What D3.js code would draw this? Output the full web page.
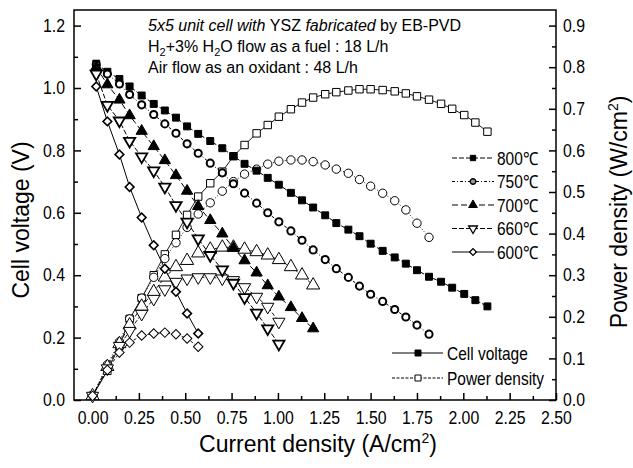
<!DOCTYPE html>
<html>
<head>
<meta charset="utf-8">
<script src="https://cdn.jsdelivr.net/npm/d3@7"></script>
<style>
  body { margin: 0; background: #fff; }
  svg { display: block; }
  text { font-family: "Liberation Sans", Arial, sans-serif; fill: #000; }
</style>
</head>
<body>
<svg id="chart" width="633" height="468"></svg>
<script>
// current density (A/cm2), shared by all temperatures (each uses the first n points)
const current = [0.02,0.08,0.145,0.20,0.265,0.33,0.39,0.45,0.51,0.57,0.635,0.70,0.76,0.82,0.885,0.945,1.005,1.07,1.13,1.19,1.255,1.315,1.38,1.44,1.50,1.565,1.63,1.69,1.75,1.815,1.88,1.94,2.005,2.065,2.13];
const currentP = [0.00,0.08,0.145,0.20,0.265,0.33,0.39,0.45,0.51,0.57,0.635,0.70,0.76,0.82,0.885,0.945,1.005,1.07,1.13,1.19,1.255,1.315,1.38,1.44,1.50,1.565,1.63,1.69,1.75,1.815,1.88,1.94,2.005,2.065,2.13];

// cell voltage (V)
const v800 = [1.078,1.052,1.029,1.005,0.976,0.949,0.928,0.905,0.877,0.853,0.830,0.807,0.782,0.757,0.735,0.712,0.690,0.664,0.640,0.617,0.592,0.567,0.546,0.525,0.501,0.478,0.457,0.437,0.416,0.395,0.379,0.360,0.340,0.320,0.300];
const v750 = [1.075,1.045,1.013,0.979,0.946,0.915,0.885,0.855,0.821,0.791,0.759,0.728,0.693,0.663,0.631,0.600,0.571,0.542,0.512,0.481,0.450,0.421,0.393,0.365,0.339,0.316,0.290,0.266,0.240,0.211];
const v700 = [1.067,1.011,0.962,0.912,0.862,0.813,0.768,0.720,0.670,0.621,0.576,0.533,0.487,0.447,0.408,0.367,0.331,0.297,0.262,0.229];
const v660 = [1.045,0.945,0.895,0.830,0.780,0.735,0.683,0.624,0.571,0.517,0.464,0.418,0.375,0.329,0.279,0.229,0.180];
const v600 = [1.005,0.893,0.787,0.683,0.585,0.496,0.421,0.347,0.277,0.213];

// power density (W/cm2)
const p800 = [0.01,0.07,0.13,0.195,0.245,0.30,0.35,0.397,0.445,0.489,0.521,0.549,0.586,0.613,0.641,0.661,0.681,0.699,0.715,0.727,0.735,0.740,0.744,0.747,0.747,0.745,0.742,0.737,0.730,0.722,0.712,0.700,0.685,0.667,0.645];
const p750 = [0.01,0.085,0.14,0.195,0.245,0.295,0.34,0.378,0.415,0.447,0.474,0.502,0.525,0.543,0.555,0.567,0.574,0.577,0.577,0.573,0.565,0.555,0.545,0.530,0.514,0.497,0.479,0.457,0.425,0.391];
const p700 = [0.01,0.08,0.135,0.18,0.225,0.26,0.295,0.32,0.335,0.353,0.362,0.367,0.367,0.362,0.356,0.348,0.337,0.32,0.30,0.276];
const p660 = [0.01,0.076,0.13,0.166,0.207,0.243,0.266,0.284,0.292,0.295,0.295,0.292,0.288,0.271,0.248,0.224,0.188];
const p600 = [0.01,0.072,0.114,0.138,0.155,0.16,0.162,0.158,0.148,0.128];

const tempLabels = ["800℃", "750℃", "700℃", "660℃", "600℃"];
const xTicks = [0,0.25,0.5,0.75,1,1.25,1.5,1.75,2,2.25,2.5];
const yTicks = [0,0.2,0.4,0.6,0.8,1.0,1.2];
const y2Ticks = [0,0.1,0.2,0.3,0.4,0.5,0.6,0.7,0.8,0.9];

const svg = d3.select("#chart");
const margin = { top: 10, right: 77, bottom: 68, left: 74 };
const width = 633, height = 468;

const x = d3.scaleLinear().domain([-0.1, 2.5]).range([margin.left, width - margin.right]);
const y = d3.scaleLinear().domain([0, 1.25]).range([height - margin.bottom, margin.top]);
const y2 = d3.scaleLinear().domain([0, 0.9375]).range([height - margin.bottom, margin.top]);

// squeeze text horizontally, the original uses a narrow face
function condense(sel, k) {
    sel.each(function() {
        const t = d3.select(this);
        const tx = +t.attr("x") || 0, ty = +t.attr("y") || 0;
        t.attr("x", 0).attr("y", 0).attr("transform", `translate(${tx},${ty}) scale(${k},1)`);
    });
}

// Axes (ticks point inward)
const bottom = height - margin.bottom;
const right = width - margin.right;

svg.append("g")
    .attr("transform", `translate(0, ${bottom})`)
    .call(d3.axisBottom(x).tickValues(xTicks.map(d => d + 0.125).filter(d => d < 2.5)).tickSize(-4).tickFormat(""));
svg.append("g")
    .attr("class", "axis")
    .attr("transform", `translate(0, ${bottom})`)
    .call(d3.axisBottom(x).tickValues(xTicks).tickSize(-7).tickPadding(11).tickFormat(d3.format(".2f")));

svg.append("g")
    .attr("transform", `translate(${margin.left}, 0)`)
    .call(d3.axisLeft(y).tickValues(yTicks.map(d => d + 0.1).filter(d => d < 1.25)).tickSize(-4).tickFormat(""));
svg.append("g")
    .attr("class", "axis")
    .attr("transform", `translate(${margin.left}, 0)`)
    .call(d3.axisLeft(y).tickValues(yTicks).tickSize(-7).tickPadding(9).tickFormat(d3.format(".1f")));

svg.append("g")
    .attr("transform", `translate(${right}, 0)`)
    .call(d3.axisRight(y2).tickValues(y2Ticks.map(d => d + 0.05).filter(d => d < 0.93)).tickSize(-4).tickFormat(""));
svg.append("g")
    .attr("class", "axis")
    .attr("transform", `translate(${right}, 0)`)
    .call(d3.axisRight(y2).tickValues(y2Ticks).tickSize(-7).tickPadding(7).tickFormat(d3.format(".1f")));

svg.selectAll(".domain").remove();
svg.selectAll(".tick line").attr("stroke", "#000").attr("stroke-width", 1.5);
svg.selectAll(".axis text").style("font-size", "18px").attr("fill", "#000");
condense(svg.selectAll(".axis text"), 0.88);

// Frame
svg.append("rect")
    .attr("x", margin.left).attr("y", margin.top)
    .attr("width", right - margin.left).attr("height", bottom - margin.top)
    .attr("fill", "none").attr("stroke", "#000").attr("stroke-width", 1.5);

// Series definitions
const sym = {
    square: d3.symbol().type(d3.symbolSquare),
    circle: d3.symbol().type(d3.symbolCircle),
    tri: d3.symbol().type(d3.symbolTriangle)
};

const voltSeries = [
    { v: v800, shape: "square", size: 48, fill: "#000", sw: 1, dash: "5,2", rot: 0 },
    { v: v750, shape: "circle", size: 40, fill: "#fff", sw: 2, dash: "3,2,1,2", rot: 0 },
    { v: v700, shape: "tri", size: 55, fill: "#000", sw: 1, dash: "6,3", rot: 0 },
    { v: v660, shape: "tri", size: 55, fill: "#fff", sw: 1.8, dash: "5,2", rot: 180 },
    { v: v600, shape: "square", size: 38, fill: "#fff", sw: 1.6, dash: null, rot: 45 }
];
const powerSeries = [
    { p: p800, shape: "square", size: 55, sw: 1, dash: null, rot: 0 },
    { p: p750, shape: "circle", size: 55, sw: 1, dash: "1,2", rot: 0 },
    { p: p700, shape: "tri", size: 75, sw: 1, dash: "4,2", rot: 0 },
    { p: p660, shape: "tri", size: 65, sw: 1, dash: "4,2", rot: 180 },
    { p: p600, shape: "square", size: 45, sw: 1, dash: "3,2", rot: 45 }
];

const lineV = d3.line().x((d, i) => x(current[i])).y(d => y(d));
const lineP = d3.line().x((d, i) => x(currentP[i])).y(d => y2(d));

const plot = svg.append("g");

powerSeries.forEach(s => {
    plot.append("path").datum(s.p)
        .attr("fill", "none").attr("stroke", "#000").attr("stroke-width", 0.9)
        .attr("stroke-dasharray", s.dash).attr("d", lineP);
});
voltSeries.forEach(s => {
    plot.append("path").datum(s.v)
        .attr("fill", "none").attr("stroke", "#000").attr("stroke-width", 1)
        .attr("stroke-dasharray", s.dash).attr("d", lineV);
});

powerSeries.forEach(s => {
    plot.append("g").selectAll("path")
        .data(s.p)
        .enter()
        .append("path")
        .attr("d", sym[s.shape].size(s.size)())
        .attr("transform", (d, i) => `translate(${x(currentP[i])}, ${y2(d)}) rotate(${s.rot})`)
        .attr("fill", "#fff").attr("stroke", "#000").attr("stroke-width", s.sw);
});
voltSeries.forEach(s => {
    plot.append("g").selectAll("path")
        .data(s.v)
        .enter()
        .append("path")
        .attr("d", sym[s.shape].size(s.size)())
        .attr("transform", (d, i) => `translate(${x(current[i])}, ${y(d)}) rotate(${s.rot})`)
        .attr("fill", s.fill).attr("stroke", "#000").attr("stroke-width", s.sw);
});

// Temperature legend
const legT = svg.append("g");
tempLabels.forEach((t, i) => {
    const s = voltSeries[i];
    const ly = 158 + i * 23.5;
    legT.append("line").attr("x1", 452).attr("x2", 494).attr("y1", ly).attr("y2", ly)
        .attr("stroke", "#000").attr("stroke-width", 1).attr("stroke-dasharray", s.dash);
    legT.append("path")
        .attr("d", sym[s.shape].size(s.size * 0.6)())
        .attr("transform", `translate(473, ${ly}) rotate(${s.rot})`)
        .attr("fill", i === 1 ? "#999" : s.fill).attr("stroke", "#000").attr("stroke-width", Math.min(s.sw, 1.3));
    legT.append("text").attr("class", "leg").attr("x", 497).attr("y", ly + 6.5)
        .style("font-size", "18px").text(t);
});

// Cell voltage / power density legend
const legK = [
    { label: "Cell voltage", fill: "#000", dash: null },
    { label: "Power density", fill: "#fff", dash: "3,1.5" }
];
legK.forEach((k, i) => {
    const ly = 353 + i * 25;
    svg.append("line").attr("x1", 392).attr("x2", 443).attr("y1", ly).attr("y2", ly)
        .attr("stroke", "#000").attr("stroke-width", 1).attr("stroke-dasharray", k.dash);
    svg.append("path")
        .attr("d", sym.square.size(36)())
        .attr("transform", `translate(418, ${ly})`)
        .attr("fill", k.fill).attr("stroke", "#000").attr("stroke-width", 1);
    svg.append("text").attr("class", "leg").attr("x", 447).attr("y", ly + 6.5)
        .style("font-size", "18px").text(k.label);
});
condense(svg.selectAll("text.leg"), 0.86);

// Test conditions
const note = svg.append("g").style("font-size", "16px");
const l1 = note.append("text").attr("x", 148).attr("y", 31);
l1.append("tspan").style("font-style", "italic").text("5x5 unit cell with ");
l1.append("tspan").text("YSZ ");
l1.append("tspan").style("font-style", "italic").text("fabricated");
l1.append("tspan").text(" by EB-PVD");

const l2 = note.append("text").attr("x", 148).attr("y", 52);
l2.append("tspan").text("H");
l2.append("tspan").attr("dy", 4).style("font-size", "11px").text("2");
l2.append("tspan").attr("dy", -4).text("+3% H");
l2.append("tspan").attr("dy", 4).style("font-size", "11px").text("2");
l2.append("tspan").attr("dy", -4).text("O flow as a fuel : 18 L/h");

note.append("text").attr("x", 148).attr("y", 73).text("Air flow as an oxidant : 48 L/h");

// Axis titles
const xt = svg.append("text")
    .attr("x", 318).attr("y", 452)
    .attr("text-anchor", "middle").style("font-size", "23px");
xt.append("tspan").text("Current density (A/cm");
xt.append("tspan").attr("dy", -9).style("font-size", "14px").text("2");
xt.append("tspan").attr("dy", 9).text(")");

svg.append("text")
    .attr("transform", "translate(29, 220) rotate(-90)")
    .attr("text-anchor", "middle").style("font-size", "23px")
    .text("Cell voltage (V)");

const yt2 = svg.append("text")
    .attr("transform", "translate(627, 212) rotate(-90)")
    .attr("text-anchor", "middle").style("font-size", "23px");
yt2.append("tspan").text("Power density (W/cm");
yt2.append("tspan").attr("dy", -9).style("font-size", "14px").text("2");
yt2.append("tspan").attr("dy", 9).text(")");
</script>
</body>
</html>
